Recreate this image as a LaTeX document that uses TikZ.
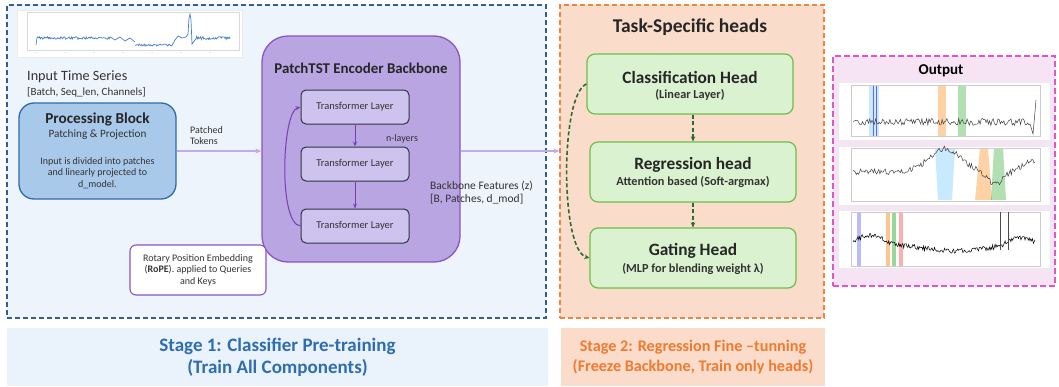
\documentclass[tikz,border=0pt]{standalone}
\usepackage{fontspec}
\setmainfont{Carlito}
\usetikzlibrary{arrows.meta}
\definecolor{sonefill}{HTML}{EEF4FB}
\definecolor{soneborder}{HTML}{2E5E94}
\definecolor{procfill}{HTML}{A9C9EB}
\definecolor{procborder}{HTML}{2F6CA6}
\definecolor{bbfill}{HTML}{B8A5E2}
\definecolor{bbborder}{HTML}{8A55C4}
\definecolor{tlfill}{HTML}{CEC2EF}
\definecolor{tlborder}{HTML}{2D3540}
\definecolor{purparrow}{HTML}{7A3DB5}
\definecolor{lightarrow}{HTML}{C2ABE6}
\definecolor{stwofill}{HTML}{FADCCB}
\definecolor{stwoborder}{HTML}{F2823F}
\definecolor{headfill}{HTML}{DAF2D0}
\definecolor{headborder}{HTML}{6DBE4B}
\definecolor{darkgreen}{HTML}{2E6B2E}
\definecolor{outfill}{HTML}{F6E3F4}
\definecolor{outborder}{HTML}{E055C8}
\definecolor{lblone}{HTML}{EAF2FB}
\definecolor{lbltwo}{HTML}{FBDCCB}
\definecolor{txtone}{HTML}{2E6DB0}
\definecolor{txttwo}{HTML}{F07A30}
\definecolor{txtdark}{HTML}{333333}
\definecolor{serieblue}{HTML}{4A7FC0}
\newcommand{\fsz}[1]{\fontsize{#1}{#1}\selectfont}
\begin{document}
\begin{tikzpicture}[x=1pt,y=-1pt,
  txt/.style={inner sep=0pt, text=txtdark},
  stagebox/.style={dashed, dash pattern=on 5pt off 3pt, line width=1.2pt},
  tlbox/.style={draw=tlborder, fill=tlfill, line width=1pt, rounded corners=5pt, minimum width=108pt, minimum height=34pt, inner sep=0pt, text=txtdark, font=\fsz{10.5}},
  headbox/.style={draw=headborder, fill=headfill, line width=1.2pt, rounded corners=8pt, minimum width=206pt, minimum height=60pt, inner sep=0pt},
  purpleflow/.style={draw=purparrow, line width=1pt, -{Stealth[length=5pt,width=4pt]}},
  lightflow/.style={draw=lightarrow, line width=1.5pt, -{Stealth[length=6pt,width=5pt]}},
  greenflow/.style={draw=darkgreen, line width=1.6pt, dashed, dash pattern=on 4pt off 2.5pt, -{Stealth[length=5pt,width=4.5pt]}},
  plotbox/.style={fill=white, draw=black!8, line width=0.5pt},
]
\useasboundingbox (0,0) rectangle (1059,386);
\fill[white] (0,0) rectangle (1059,386);

% Stage containers
\node[stagebox, draw=soneborder, fill=sonefill, minimum width=539pt, minimum height=313pt, inner sep=0pt] (stageone) at (276.5,161.5) {};
\node[stagebox, draw=stwoborder, fill=stwofill, minimum width=264pt, minimum height=313pt, inner sep=0pt] (stagetwo) at (692,161.5) {};
\node[stagebox, draw=outborder, fill=outfill, minimum width=222pt, minimum height=230pt, inner sep=0pt, dash pattern=on 6pt off 3pt, line width=1.5pt] (outbox) at (944,171) {};

% Input time series plot
\node[plotbox, minimum width=225pt, minimum height=47pt, inner sep=0pt] (inplot) at (129.5,33.5) {};
\draw[black!15, line width=0.4pt] (27,12) rectangle (239,50);
\pgfmathsetseed{5}
\draw[serieblue, line width=0.7pt] (36,45) -- (37,38)
  plot[domain=37:110, samples=90] (\x,{38+1.3*rand})
  -- (115,40) -- (120,37) -- (125,41) -- (130,38) -- (135,42)
  plot[domain=135:172, samples=45] (\x,{45+1.1*rand})
  -- (175,40) -- (178,36) -- (182,38) -- (186,37) -- (188,34) -- (189,18) -- (190,14) -- (191,20) -- (192,44) -- (195,40)
  plot[domain=195:230, samples=45] (\x,{38+1.5*rand});
\foreach \xx in {36,65,94,123,152,181,210} {\fill[black!25] (\xx,52.5) circle (0.5pt);}

% Input labels
\node[txt, anchor=west, font=\fsz{14.2}] (inlbl) at (27,77) {Input Time Series};
\node[txt, anchor=west, font=\fsz{11}] (inshape) at (27,92) {[Batch, Seq\_len, Channels]};

% Processing block
\node[draw=procborder, fill=procfill, line width=1.3pt, rounded corners=15pt, minimum width=157pt, minimum height=96pt, inner sep=0pt] (proc) at (97.5,151) {};
\node[txt, font=\bfseries\fsz{15.2}, text=black!85] (proctitle) at (97.5,119) {Processing Block};
\node[txt, font=\fsz{11.2}] (procsub) at (97.5,135) {Patching \& Projection};
\node[txt, font=\fsz{10}, align=center] (procdesc) at (97.5,173) {Input is divided into patches\\[1.5pt]and linearly projected to\\[1.5pt]d\_model.};

% Backbone
\node[draw=bbborder, fill=bbfill, line width=1.3pt, rounded corners=26pt, minimum width=198pt, minimum height=226pt, inner sep=0pt] (backbone) at (361,149) {};
\node[txt, font=\bfseries\fsz{14.9}, text=black!85] (bbtitle) at (361,68) {PatchTST Encoder Backbone};
\node[tlbox] (tlone) at (355,107) {Transformer Layer};
\node[tlbox] (tltwo) at (355,164) {Transformer Layer};
\node[tlbox] (tlthree) at (355,226) {Transformer Layer};
\draw[purpleflow] (tlone.south) -- (tltwo.north);
\draw[purpleflow] (tltwo.south) -- (tlthree.north);
\draw[purpleflow] (tlthree.west) .. controls (278,224) and (282,112) .. (tlone.west);
\node[txt, font=\fsz{10}] (nlayers) at (402,139) {n-layers};

% Patched tokens connector
\draw[lightflow] (proc.east) -- (proc.east -| backbone.west);
\node[txt, anchor=north west, align=left, font=\fsz{10}] (patchlbl) at (190,126) {Patched\\[1pt]Tokens};

% RoPE box
\node[draw=bbborder, fill=white, line width=1.1pt, rounded corners=6pt, minimum width=136pt, minimum height=50pt, inner sep=0pt, align=center, text=txtdark, font=\fsz{10}] (rope) at (198,270) {Rotary Position Embedding\\[1.5pt](\textbf{RoPE}). applied to Queries\\[1.5pt]and Keys};

% Backbone features connector
\draw[lightflow] (backbone.east |- 0,151) -- (stagetwo.west |- 0,151);
\node[txt, anchor=north west, align=left, font=\fsz{11.5}] (bblbl) at (430,181) {Backbone Features (z)\\[1.5pt][B, Patches, d\_mod]};

% Task heads
\node[txt, font=\bfseries\fsz{19.5}, text=black!85] (headstitle) at (690,27) {Task-Specific heads};
\node[headbox] (cls) at (690,84) {};
\node[txt, font=\bfseries\fsz{17.3}, text=black!85] (clstitle) at (690,77) {Classification Head};
\node[txt, font=\bfseries\fsz{12.3}] (clssub) at (690,95) {(Linear Layer)};
\node[headbox] (reg) at (693,172) {};
\node[txt, font=\bfseries\fsz{17.3}, text=black!85] (regtitle) at (693,165) {Regression head};
\node[txt, font=\bfseries\fsz{12.3}] (regsub) at (693,182) {Attention based (Soft-argmax)};
\node[headbox] (gate) at (693,258) {};
\node[txt, font=\bfseries\fsz{17.3}, text=black!85] (gatetitle) at (693,251) {Gating Head};
\node[txt, font=\bfseries\fsz{12.3}] (gatesub) at (693,269) {(MLP for blending weight λ)};
\draw[greenflow] (cls.south -| 693,0) -- (reg.north);
\draw[greenflow] (reg.south) -- (gate.north);
\draw[greenflow] (cls.west) .. controls (560,95) and (560,250) .. (gate.west);

% Output
\node[txt, font=\bfseries\fsz{15}, text=black] (outtitle) at (941,71) {Output};
% plot 1
\node[plotbox, minimum width=212pt, minimum height=58pt, inner sep=0pt] (plotone) at (944,111) {};
\fill[blue!40!cyan!60, opacity=0.35] (869,85) rectangle (879,136);
\fill[orange, opacity=0.35] (938,85) rectangle (946,136);
\fill[green!60!black, opacity=0.3] (958,85) rectangle (966,136);
\draw[blue!60, line width=0.6pt] (873,85) -- (873,136) (876,85) -- (876,136);
\draw[black!20] (851,85) rectangle (1040,136);
\pgfmathsetseed{11}
\draw[black!75, line width=0.5pt] plot[domain=853:1030, samples=150] (\x,{122+3.5*rand}) -- (1033,134) -- (1036,100);
% plot 2
\node[plotbox, minimum width=212pt, minimum height=59pt, inner sep=0pt] (plottwo) at (944,175.5) {};
\fill[blue!40!cyan!60, opacity=0.35] (935,148) -- (938,200) -- (952,200) -- (955,148) -- cycle;
\fill[orange, opacity=0.35] (980,148) -- (975,200) -- (992,200) -- (988,148) -- cycle;
\fill[green!60!black, opacity=0.3] (994,148) -- (991,200) -- (1006,200) -- (1003,148) -- cycle;
\draw[black!20] (851,148) rectangle (1040,201);
\pgfmathsetseed{23}
\draw[black!75, line width=0.5pt] plot[domain=853:1035, samples=170] (\x,{172 - 24*exp(-min(((\x-945)/22)^2,12)) + 12*exp(-min(((\x-995)/10)^2,12)) - 10*exp(-min(((\x-1030)/12)^2,12)) + 3*rand});
% plot 3
\node[plotbox, minimum width=212pt, minimum height=58pt, inner sep=0pt] (plotthree) at (944,239) {};
\fill[blue!60, opacity=0.45] (857,212) rectangle (861,266);
\fill[orange, opacity=0.45] (886,212) rectangle (890,266);
\fill[green!60!black, opacity=0.4] (892,212) rectangle (896,266);
\fill[red!70, opacity=0.45] (899,212) rectangle (903,266);
\draw[black!20] (851,212) rectangle (1040,266);
\pgfmathsetseed{37}
\draw[black, line width=0.5pt] plot[domain=853:1035, samples=220] (\x,{245 - 10*exp(-min(((\x-870)/18)^2,12)) + 6*exp(-min(((\x-955)/40)^2,12)) - 8*exp(-min(((\x-1020)/15)^2,12)) + 2.5*rand});
\draw[black!70, line width=0.5pt] (1000,212) -- (1000,250) (1008,212) -- (1008,250);

% Stage labels
\node[fill=lblone, minimum width=541pt, minimum height=58pt, inner sep=0pt, align=center, text=txtone, font=\bfseries\fsz{19}] (lblone) at (277.5,357) {Stage 1: Classifier Pre-training\\[3pt](Train All Components)};
\node[fill=lbltwo, minimum width=264pt, minimum height=58pt, inner sep=0pt, align=center, text=txttwo, font=\bfseries\fsz{16.2}] (lbltwo) at (693,357) {Stage 2: Regression Fine –tunning\\[3pt](Freeze Backbone, Train only heads)};
\end{tikzpicture}
\end{document}
